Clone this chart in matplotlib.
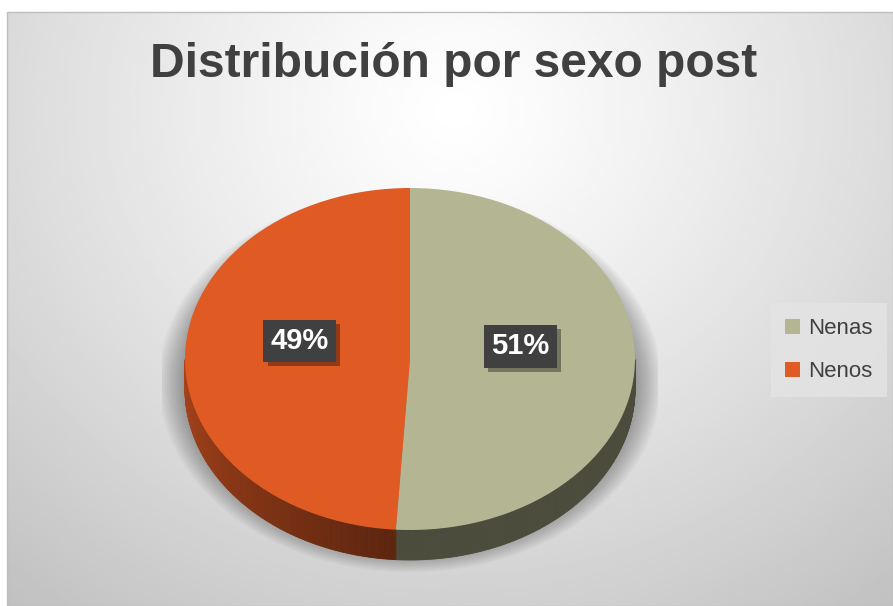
import numpy as np
import matplotlib.pyplot as plt
import matplotlib.patheffects as pe
from matplotlib.patches import Polygon, Ellipse, Rectangle

# data
labels = ['Nenas', 'Nenos']
values = [51, 49]
colors = ['#B4B592', '#E05A24']

W, H = 893, 606
fig = plt.figure(figsize=(W / 100, H / 100), dpi=100)
fig.patch.set_facecolor('white')

# background panel with soft radial gradient
bg = fig.add_axes([0, 0, 1, 1])
bg.set_xlim(0, W)
bg.set_ylim(0, H)
bg.axis('off')
xx, yy = np.meshgrid(np.linspace(7, W, 300), np.linspace(0, H - 12, 200))
d = np.sqrt(((xx - 455) / 620) ** 2 + ((yy - (H - 110)) / 560) ** 2)
shade = np.clip(1.0 - 0.21 * d ** 1.2, 0, 1)
bg.imshow(shade, cmap='gray', vmin=0, vmax=1, origin='lower',
          extent=(7, W, 0, H - 12), aspect='auto', interpolation='bilinear')
bg.add_patch(Rectangle((7, 0), W - 7, H - 12, fill=False, ec='#BDBDBD', lw=1))

# pie axes: unit ellipse maps to the top face of the pie
cx, cy, rx, ry = 410, 359, 225, 171
x0, x1, y0, y1 = -1.1, 1.1, -1.35, 1.1
left = (cx + x0 * rx) / W
width = (x1 - x0) * rx / W
bottom = (H - (cy - y0 * ry)) / H
height = (y1 - y0) * ry / H
ax = fig.add_axes([left, bottom, width, height])

wedges, texts, autotexts = ax.pie(values, colors=colors, startangle=90, counterclock=False,
                                  radius=1, autopct='%1.0f%%', pctdistance=0.49,
                                  wedgeprops=dict(linewidth=0, zorder=5),
                                  textprops=dict(color='white', fontsize=21, fontweight='bold',
                                                 family='Liberation Sans'))
for t in texts:
    t.set_visible(False)
ax.set_aspect('auto')
ax.set_xlim(x0, x1)
ax.set_ylim(y0, y1)
ax.axis('off')

depth = 30 / ry

# soft shadow beneath the pie
for k in range(14):
    s = 1.0 + 0.009 * k
    ax.add_patch(Ellipse((0, -0.13), 2 * s, 2 * s, fc='black', ec='none',
                         alpha=0.026, zorder=0))

# side wall
def side_factor(t):
    t = t % 360
    return 0.42 + 0.34 * np.clip((265 - t) / 85, 0, 1)

for w in wedges:
    base = np.array(plt.matplotlib.colors.to_rgb(w.get_facecolor()))
    t1, t2 = w.theta1 % 360, w.theta2 % 360
    if t2 <= t1:
        t2 += 360
    ts = np.linspace(t1, t2, 400)
    for a, b in zip(ts[:-1], ts[1:]):
        m = (a + b) / 2
        if np.sin(np.radians(m)) >= 0:
            continue
        ra, rb = np.radians(a), np.radians(b)
        poly = [(np.cos(ra), np.sin(ra)), (np.cos(rb), np.sin(rb)),
                (np.cos(rb), np.sin(rb) - depth), (np.cos(ra), np.sin(ra) - depth)]
        c = base * side_factor(m)
        ax.add_patch(Polygon(poly, closed=True, fc=c, ec=c, lw=0.6, zorder=2))

# data labels with dark boxes and drop shadow
for t in autotexts:
    px, py = t.get_position()
    t.set_position((px, py + 0.09))
    t.set_zorder(8)
    t.set_bbox(dict(boxstyle='square,pad=0.25', fc='#404040', ec='none'))
    t.get_bbox_patch().set_path_effects([
        pe.SimplePatchShadow(offset=(3, -3), shadow_rgbFace='black', alpha=0.35),
        pe.Normal()])

fig.text(454 / W, 1 - 77 / H, 'Distribución por sexo post', ha='center', va='baseline',
         fontsize=34.5, fontweight='bold', color='#404040', family='Liberation Sans')

leg = fig.legend(wedges, labels, loc='center', bbox_to_anchor=(829 / W, 1 - 350 / H),
                 frameon=True, fancybox=False, handlelength=0.65, handleheight=0.65,
                 handletextpad=0.4, labelspacing=1.0, borderpad=0.65,
                 prop=dict(family='Liberation Sans', size=16))
leg.get_frame().set_facecolor('#E4E4E4')
leg.get_frame().set_edgecolor('none')
for txt in leg.get_texts():
    txt.set_color('#404040')

fig.savefig('out.png', dpi=100)
